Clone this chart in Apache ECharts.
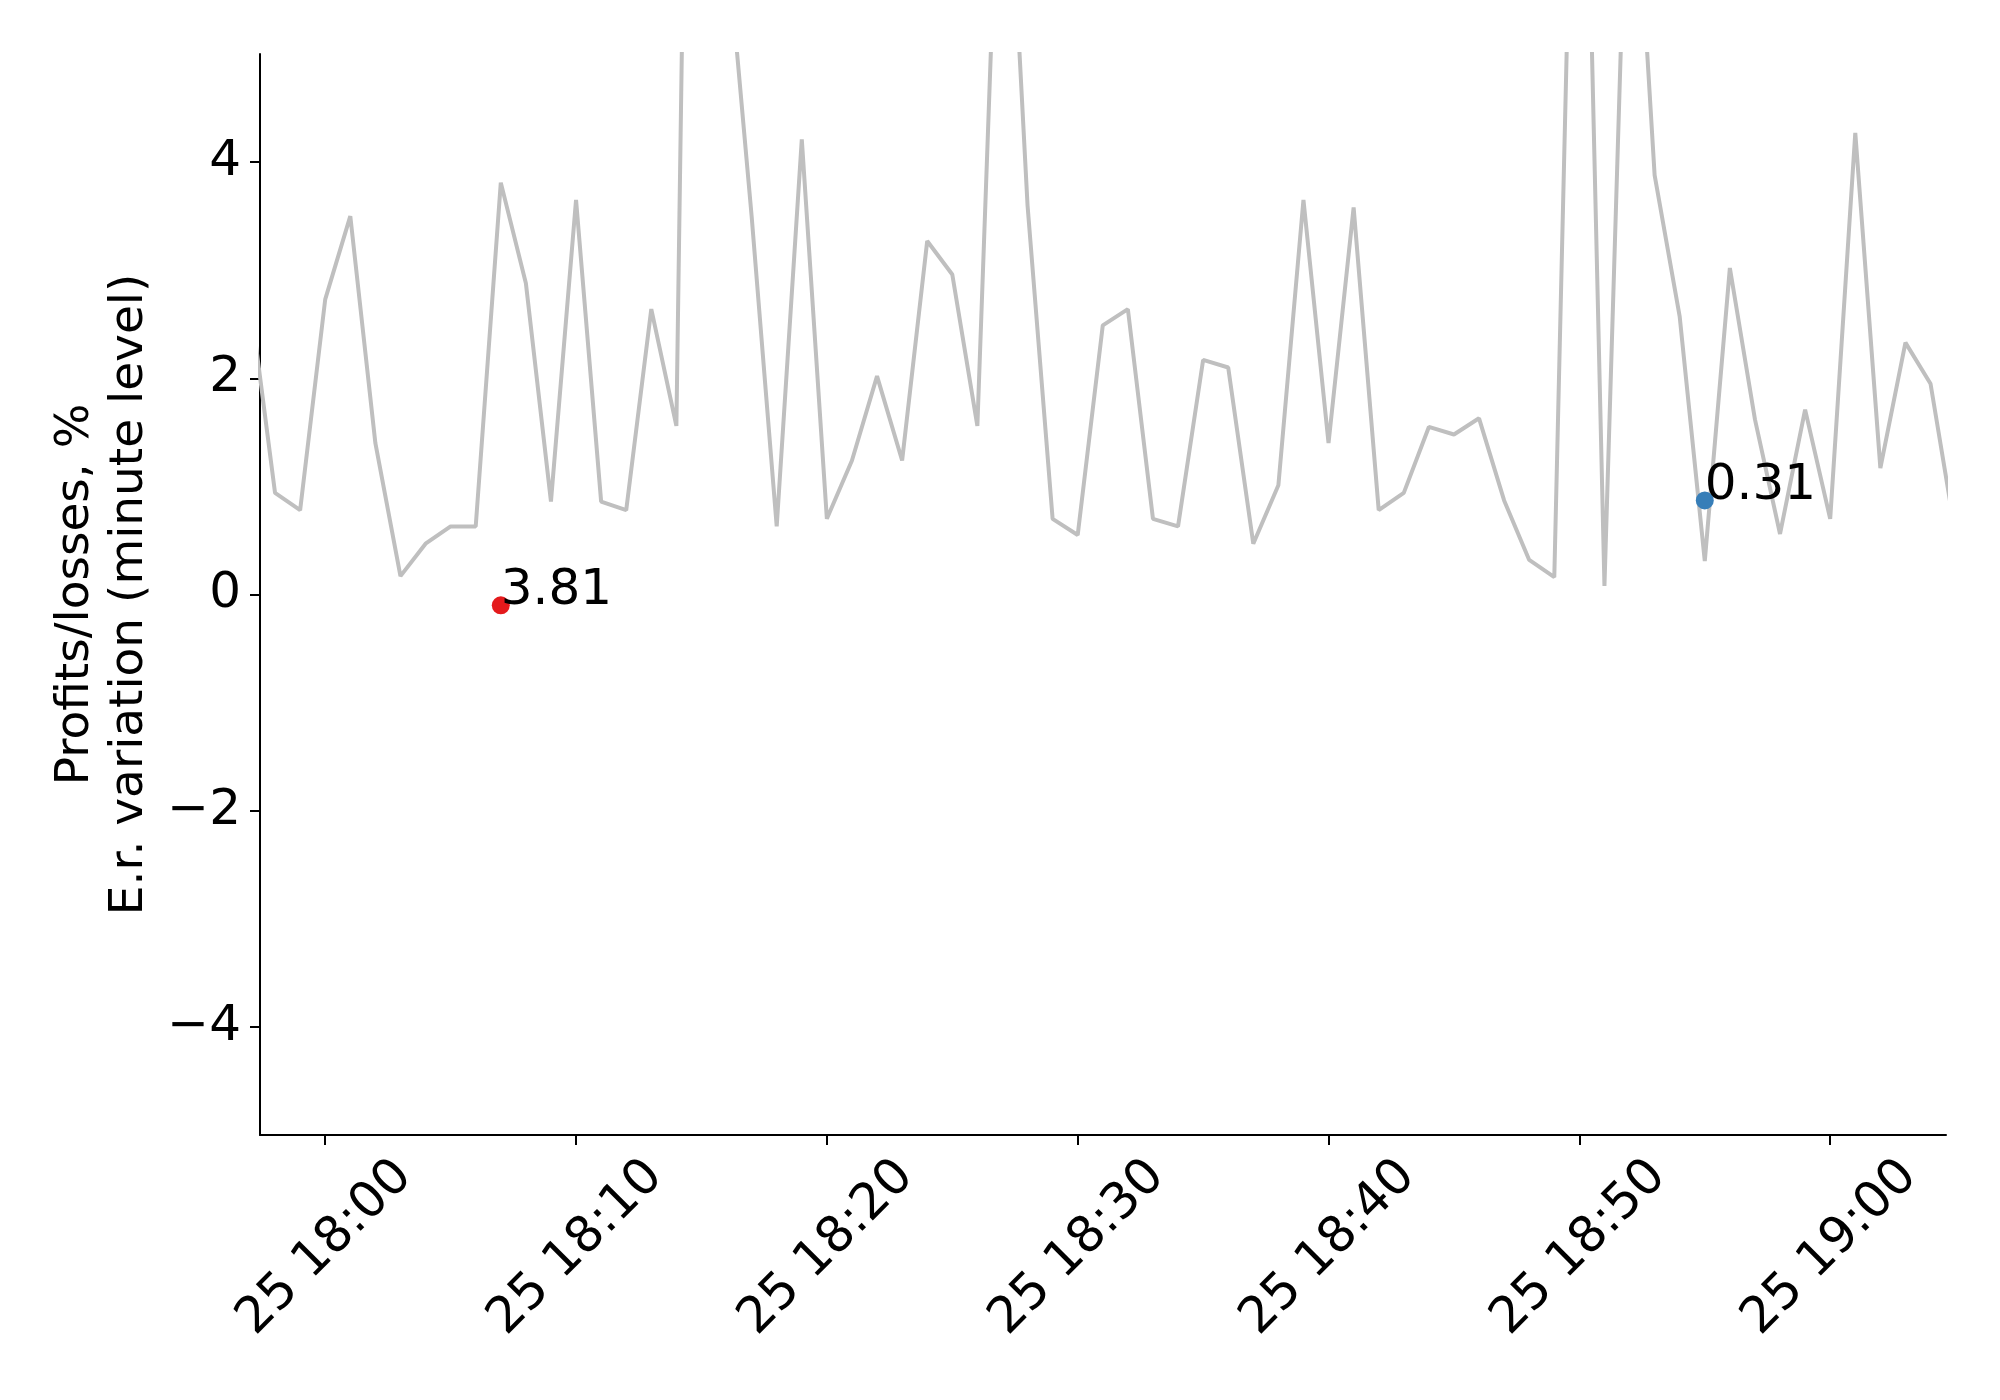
<!DOCTYPE html>
<html>
<head>
<meta charset="utf-8">
<title>E.r. variation</title>
<script src="https://cdn.jsdelivr.net/npm/echarts@6/dist/echarts.min.js"></script>
<style>
  html, body { margin: 0; padding: 0; background: #fff; }
  #chart { width: 2000px; height: 1400px; }
</style>
</head>
<body>
<div id="chart"></div>
<script>
// minute-level series, first point 17:57, one point per minute
var firstTime = '17:57'
var values = [
  2.73, 0.94, 0.78, 2.73, 3.50, 1.40, 0.17, 0.47, 0.63, 0.63,
  3.81, 2.88, 0.86, 3.65, 0.86, 0.78, 2.64, 1.56, 17.5, 6.10,
  3.50, 0.63, 4.21, 0.70, 1.24, 2.02, 1.24, 3.27, 2.96, 1.56,
  8.00, 3.60, 0.70, 0.55, 2.49, 2.64, 0.70, 0.63, 2.17, 2.10,
  0.47, 1.01, 3.65, 1.40, 3.58, 0.78, 0.94, 1.55, 1.48, 1.63,
  0.87, 0.32, 0.16, 10.0, 0.08, 7.70, 3.88, 2.57, 0.31, 3.02,
  1.62, 0.56, 1.71, 0.70, 4.27, 1.17, 2.33, 1.95, 0.55
]

// highlighted points
var markerTimes = ['18:07', '18:55']
var markerY = [-0.10, 0.87]
var markerLabels = ['3.81', '0.31']
var markerColors = ['#e41a1c', '#377eb8']

// axis
var xTickTimes = ['18:00', '18:10', '18:20', '18:30', '18:40', '18:50', '19:00']
var xMinTime = '17:57:24'
var xMaxTime = '19:04:37'
var yTicks = [-4, -2, 0, 2, 4]

function at(hhmm) {
  var p = hhmm.split(':')
  return new Date(2020, 0, 25, +p[0], +p[1], +(p[2] || 0)).getTime()
}
function pad(n) {
  return (n < 10 ? '0' : '') + n
}

var lineData = values.map(function (v, i) {
  return [at(firstTime) + i * 60000, v]
})
var markerData = markerTimes.map(function (t, i) {
  return {
    value: [at(t), markerY[i]],
    itemStyle: { color: markerColors[i], opacity: 1 },
    label: { formatter: markerLabels[i] }
  }
})

var font = 'DejaVu Sans'
var chart = echarts.init(document.getElementById('chart'))
var option = {
  animation: false,
  backgroundColor: '#fff',
  grid: { left: 260, top: 54, right: 54, bottom: 265 },
  xAxis: {
    type: 'value',
    min: at(xMinTime),
    max: at(xMaxTime),
    axisLine: { show: true, onZero: false, lineStyle: { color: '#000', width: 2 } },
    axisTick: {
      show: true,
      length: 10,
      lineStyle: { color: '#000', width: 2 },
      customValues: xTickTimes.map(at)
    },
    axisLabel: {
      customValues: xTickTimes.map(at),
      rotate: 45,
      align: 'center',
      verticalAlign: 'middle',
      margin: 113,
      color: '#000',
      fontFamily: font,
      fontSize: 50,
      formatter: function (v) {
        var d = new Date(v)
        return d.getDate() + ' ' + pad(d.getHours()) + ':' + pad(d.getMinutes())
      }
    },
    splitLine: { show: false }
  },
  yAxis: {
    type: 'value',
    min: -5,
    max: 5,
    name: 'Profits/losses, %\nE.r. variation (minute level)',
    nameLocation: 'middle',
    nameRotate: 90,
    nameGap: 100,
    nameTextStyle: {
      color: '#000',
      fontFamily: font,
      fontSize: 47,
      lineHeight: 54,
      align: 'center'
    },
    axisLine: { show: true, onZero: false, lineStyle: { color: '#000', width: 2 } },
    axisTick: {
      show: true,
      length: 10,
      lineStyle: { color: '#000', width: 2 },
      customValues: yTicks
    },
    axisLabel: {
      customValues: yTicks,
      margin: 19,
      color: '#000',
      fontFamily: font,
      fontSize: 50,
      formatter: function (v) {
        return v < 0 ? '\u2212' + Math.abs(v) : String(v)
      }
    },
    splitLine: { show: false }
  },
  series: [
    {
      type: 'line',
      data: lineData,
      showSymbol: false,
      clip: true,
      lineStyle: { color: '#bfbfbf', width: 4 },
      z: 2
    },
    {
      type: 'scatter',
      data: markerData,
      symbolSize: 18,
      clip: true,
      label: {
        show: true,
        position: [9, 9],
        align: 'left',
        verticalAlign: 'bottom',
        offset: [0, 11],
        color: '#000',
        opacity: 1,
        fontFamily: font,
        fontSize: 50
      },
      z: 3
    }
  ]
}
chart.setOption(option)
</script>
</body>
</html>
